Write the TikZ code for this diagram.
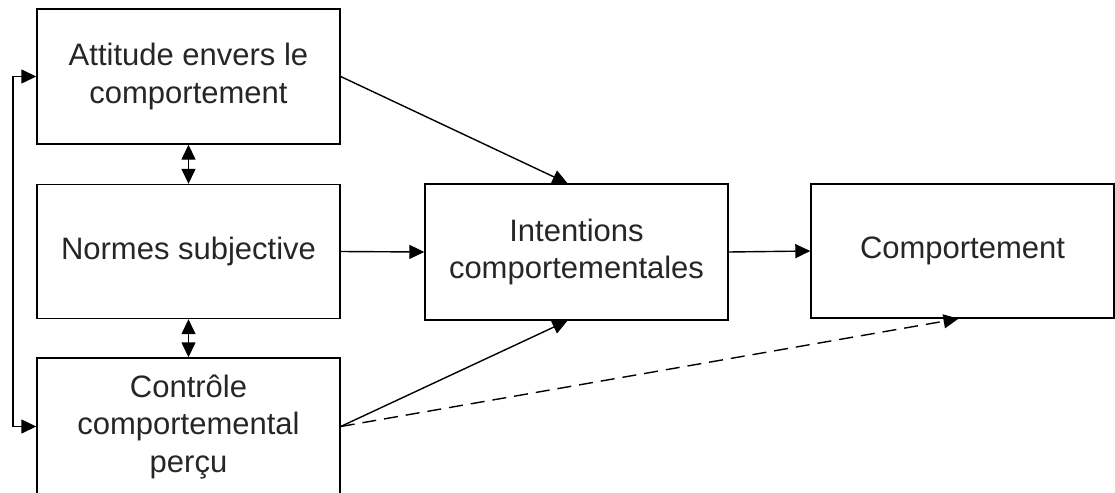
\documentclass[tikz,border=0pt]{standalone}
\usepackage{fontspec}
\setmainfont{Liberation Sans}
\usetikzlibrary{arrows.meta,calc}
\begin{document}
\begin{tikzpicture}[x=1pt,y=-1pt,
  box/.style={draw,line width=1.4pt,minimum width=303pt,minimum height=135pt,inner sep=0pt,align=center,font=\fontsize{31}{37.5}\selectfont,text=black!85},
  conn/.style={line width=1.4pt,-{Triangle[length=15pt,width=14pt]}},
  twoway/.style={line width=1.4pt,{Triangle[length=15pt,width=14pt]}-{Triangle[length=15pt,width=14pt]}},
  dashconn/.style={conn,dash pattern=on 14pt off 8pt}]
\useasboundingbox (0,0) rectangle (1115,492);
\node[box] (att) at (188.5,76.5) {Attitude envers le\\comportement};
\node[box,minimum height=134pt] (nor) at (188.5,251.5) {Normes subjective};
\node[box,minimum height=137pt] (ctl) at (188.5,426.5) {Contrôle\\comportemental\\perçu};
\node[box,minimum height=136pt] (int) at (576.5,252) {Intentions\\comportementales};
\node[box,minimum height=134pt] (cmp) at (962.5,251) {Comportement};
\coordinate (fb) at (13,0);
\draw[twoway] (att.west) -- (att.west -| fb) |- (ctl.west);
\draw[twoway] (att.south) -- (nor.north);
\draw[twoway] (nor.south) -- (ctl.north);
\draw[conn] (att.east) -- ($(int.north)+(-9,0)$);
\draw[conn] (nor.east) -- (int.west);
\draw[conn] (ctl.east) -- ($(int.south)+(-9,0)$);
\draw[conn] (int.east) -- (cmp.west);
\draw[dashconn] (ctl.east) -- ($(cmp.south)+(-4,0)$);
\end{tikzpicture}
\end{document}
